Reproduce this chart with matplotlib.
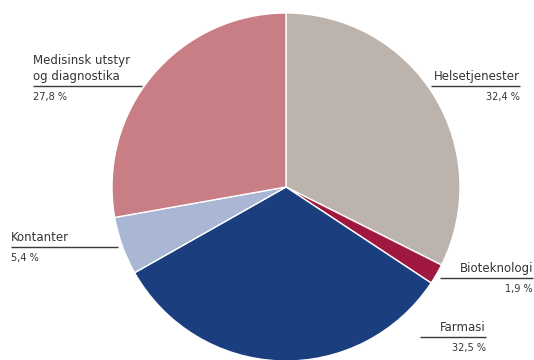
import matplotlib
matplotlib.use("Agg")
import matplotlib.pyplot as plt

# sector shares, clockwise from 12 o'clock
sectors = ["Helsetjenester", "Bioteknologi", "Farmasi", "Kontanter",
           "Medisinsk utstyr\nog diagnostika"]
shares = [32.4, 1.9, 32.5, 5.4, 27.8]
colors = ["#bcb3ac", "#a0173f", "#1b3f7e", "#aab7d4", "#c97d84"]

plt.rcParams["font.family"] = ["Liberation Sans Narrow", "DejaVu Sans"]

fig = plt.figure(figsize=(5.34, 3.6), dpi=100)
ax = fig.add_axes([0, 0, 1, 1])

# y axis runs downward (pixel style), so start at -90 and go "counterclock"
# in data space, which reads clockwise from the top on screen
ax.pie(shares, colors=colors, startangle=-90, counterclock=True,
       center=(286, 187), radius=174, frame=True,
       wedgeprops=dict(edgecolor="white", linewidth=1.0))
ax.set_xlim(0, 534)
ax.set_ylim(360, 0)
ax.set_aspect("equal")
ax.axis("off")

# label boxes: (line y, line x0, line x1, align)
label_pos = [
    (86, 431, 520, "right"),
    (278, 440, 533, "right"),
    (337, 420, 486, "right"),
    (247, 11, 118, "left"),
    (86, 33, 142, "left"),
]

for name, val, (ly, x0, x1, ha) in zip(sectors, shares, label_pos):
    tx = x1 if ha == "right" else x0
    ax.plot([x0, x1], [ly, ly], color="#3a3a3a", lw=1.0, solid_capstyle="butt")
    ax.text(tx, ly - 3, name, ha=ha, va="bottom", fontsize=8.5,
            color="#333333", linespacing=1.3)
    ax.text(tx, ly + 6, f"{val:.1f} %".replace(".", ","), ha=ha, va="top",
            fontsize=7, color="#333333")

fig.savefig("out.png", dpi=100)
